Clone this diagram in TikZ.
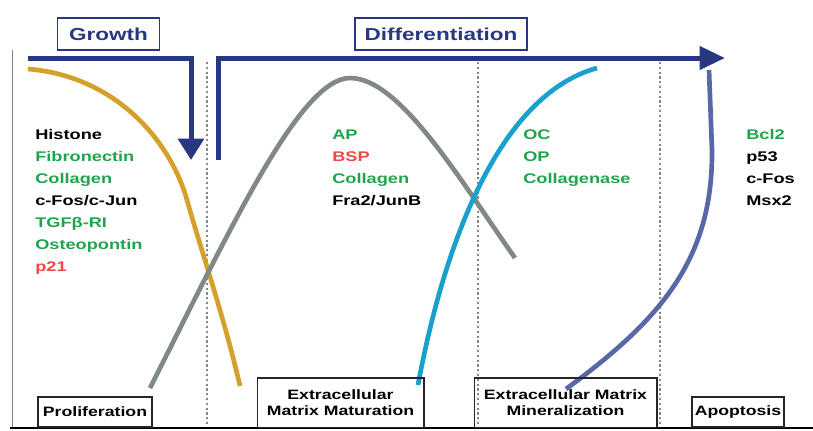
\documentclass[tikz,border=0pt]{standalone}
\usepackage{fontspec}
\setmainfont{Liberation Sans}
\newfontfamily\widefont[FakeStretch=1.3]{Liberation Sans}
\usetikzlibrary{arrows.meta}
\definecolor{arrownavy}{RGB}{40,56,128}
\definecolor{curveorange}{RGB}{214,160,44}
\definecolor{curvegray}{RGB}{128,136,136}
\definecolor{curvecyan}{RGB}{26,160,204}
\definecolor{curveslate}{RGB}{88,104,166}
\definecolor{genegreen}{RGB}{30,165,75}
\definecolor{genered}{RGB}{240,70,70}
\begin{document}
\begin{tikzpicture}[x={(0.75pt,0)},y={(0,-0.75pt)},
    phasebox/.style={draw=arrownavy, line width=0.9pt, minimum height=24pt, text=arrownavy,
      font=\widefont\fontsize{13}{15}\selectfont\bfseries},
    stagebox/.style={draw=black!85, line width=1pt, align=center, inner sep=0pt,
      font=\widefont\fontsize{10.2}{12.5}\selectfont\bfseries},
    gene/.style={anchor=base west, inner sep=0pt, font=\widefont\fontsize{10.5}{12}\selectfont\bfseries},
    phasearrow/.style={draw=arrownavy, line width=3.75pt},
    curve/.style={line width=3.5pt},
    divider/.style={draw=curvegray, line width=1.6pt, dotted}]
  \useasboundingbox (0,0) rectangle (813,430);

  \draw[gray, line width=0.6pt] (12,50) -- (12,428);
  \draw[black, line width=1.6pt] (10,428) -- (813,428);

  \node[phasebox, minimum width=77pt] (growth) at (108.5,34) {Growth};
  \node[phasebox, minimum width=129pt] (diff) at (441,34) {Differentiation};

  \coordinate (gstart) at (28,58);
  \coordinate (gtip) at (191,160);
  \coordinate (dstart) at (218,160);
  \coordinate (dtip) at (725,58);
  \draw[phasearrow, -{Triangle[length=16pt,width=19pt]}] (gstart) -| (gtip);
  \draw[phasearrow, -{Triangle[length=19pt,width=17pt]}] (dstart) |- (dtip);

  \draw[divider] (207,62) -- (207,425);
  \draw[divider] (478,62) -- (478,425);
  \draw[divider] (660,62) -- (660,425);

  \draw[curve, curveorange] (28,69) .. controls (115,76) and (170,140) .. (187,200)
    .. controls (198,240) and (225,320) .. (240,386);
  \draw[curve, curvegray] (150,388) .. controls (230,230) and (300,78) .. (350,78)
    .. controls (400,78) and (460,180) .. (515,258);
  \draw[curve, curvecyan] (418,385) .. controls (445,240) and (500,95) .. (597,68);
  \draw[curve, curveslate] (709,70) -- (712,150) .. controls (713,260) and (660,320) .. (566,389);

  \foreach \g/\c [count=\i] in {Histone/black, Fibronectin/genegreen, Collagen/genegreen,
      {c-Fos/c-Jun}/black, TGFβ-RI/genegreen, Osteopontin/genegreen, p21/genered}
    \node[gene, text=\c] (prol\i) at (35,117+22*\i) {\g};
  \foreach \g/\c [count=\i] in {AP/genegreen, BSP/genered, Collagen/genegreen, {Fra2/JunB}/black}
    \node[gene, text=\c] (mat\i) at (332,117+22*\i) {\g};
  \foreach \g/\c [count=\i] in {OC/genegreen, OP/genegreen, Collagenase/genegreen}
    \node[gene, text=\c] (min\i) at (523,117+22*\i) {\g};
  \foreach \g/\c [count=\i] in {Bcl2/genegreen, p53/black, c-Fos/black, Msx2/black}
    \node[gene, text=\c] (apo\i) at (746,117+22*\i) {\g};

  \node[stagebox, minimum width=85.5pt, minimum height=22.5pt] (prolif) at (95,412) {Proliferation};
  \node[stagebox, minimum width=125pt, minimum height=37pt] (matur) at (340.5,402.5) {Extracellular\\Matrix Maturation};
  \node[stagebox, minimum width=137pt, minimum height=37pt] (miner) at (565.5,402.5) {Extracellular Matrix\\Mineralization};
  \node[stagebox, minimum width=69pt, minimum height=22.5pt] (apopt) at (738,412) {Apoptosis};
\end{tikzpicture}
\end{document}
